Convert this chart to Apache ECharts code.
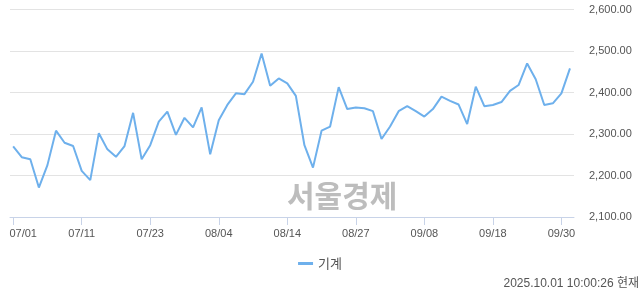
<!DOCTYPE html>
<html><head><meta charset="utf-8">
<script src="https://cdn.jsdelivr.net/npm/echarts@6/dist/echarts.min.js"></script>
<style>html,body{margin:0;padding:0;background:#fff}#c{width:640px;height:294px}</style>
</head><body><div id="c"></div>
<script>
const dates = ['07/01','07/02','07/03','07/04','07/07','07/08','07/09','07/10','07/11','07/14','07/15','07/16','07/17','07/18','07/21','07/22','07/23','07/24','07/25','07/28','07/29','07/30','07/31',
'08/01','08/04','08/05','08/06','08/07','08/08','08/11','08/12','08/13','08/14','08/18','08/19','08/20','08/21','08/22','08/25','08/26','08/27','08/28','08/29',
'09/01','09/02','09/03','09/04','09/05','09/08','09/09','09/10','09/11','09/12','09/15','09/16','09/17','09/18','09/19','09/22','09/23','09/24','09/25','09/26','09/29','09/30',
'10/01'];
const values = [2270,2244,2239,2171,2225,2308,2279,2271,2211,2189,2302,2263,2245,2271,2351,2239,2273,2330,2354,2298,2339,2316,2364,
2251,2333,2370,2398,2396,2426,2494,2416,2434,2422,2392,2273,2219,2308,2318,2413,2360,2364,2362,2355,
2288,2318,2355,2367,2355,2342,2360,2390,2380,2371,2324,2414,2367,2370,2377,2404,2418,2470,2432,2370,2374,2398,
2458];
const tickIdx = [0,8,16,24,32,40,48,56,64];
const yTicks = [2100,2200,2300,2400,2500,2600];
const seriesName = '기계';
const stamp = '2025.10.01 10:00:26 현재';
const watermark = '서울경제';

const chart = echarts.init(document.getElementById('c'), null, {renderer:'canvas'});
chart.setOption({
  animation:false,
  backgroundColor:'#fff',
  grid:{left:10,right:66,top:9.5,bottom:77},
  xAxis:{type:'value',min:-0.37,max:65.47,
    axisLine:{show:true,onZero:false,lineStyle:{color:'#c8d3e8',width:1}},
    axisTick:{show:true,length:8,lineStyle:{color:'#c8d3e8'},customValues:tickIdx},
    axisLabel:{customValues:tickIdx,
      formatter:v=>v===tickIdx[0]?'{first|'+dates[v]+'}':dates[v],
      rich:{first:{padding:[0,0,0,20],color:'#555',fontSize:11,fontFamily:'Liberation Sans'}},
      color:'#555',fontSize:11,fontFamily:'Liberation Sans',margin:11},
    splitLine:{show:false}},
  yAxis:{type:'value',position:'right',min:yTicks[0],max:yTicks[yTicks.length-1],interval:100,
    axisLine:{show:false},axisTick:{show:false},
    axisLabel:{color:'#555',fontSize:11,fontFamily:'Liberation Sans',margin:15,
      formatter:v=>v.toLocaleString('en-US',{minimumFractionDigits:2,maximumFractionDigits:2})},
    splitLine:{lineStyle:{color:'#e3e3e3',width:1}}},
  legend:{bottom:19,left:'center',itemWidth:15,itemHeight:3,icon:'rect',itemGap:10,
    textStyle:{color:'#555',fontSize:13,fontFamily:'Noto Sans CJK KR'},data:[seriesName]},
  graphic:[
    {type:'text',left:287,top:181,z:-1,style:{text:watermark,fill:'#bdbdbd',font:'bold 30px "Noto Sans CJK KR"'}},
    {type:'text',right:1,bottom:4,style:{text:stamp,fill:'#555',font:'12px "Liberation Sans", "Noto Sans CJK KR"'}}
  ],
  series:[{name:seriesName,type:'line',data:values.map((v,i)=>[i,v]),showSymbol:false,symbol:'none',
    lineStyle:{color:'#6eb0ec',width:2},itemStyle:{color:'#6eb0ec'}}]
});
</script></body></html>
